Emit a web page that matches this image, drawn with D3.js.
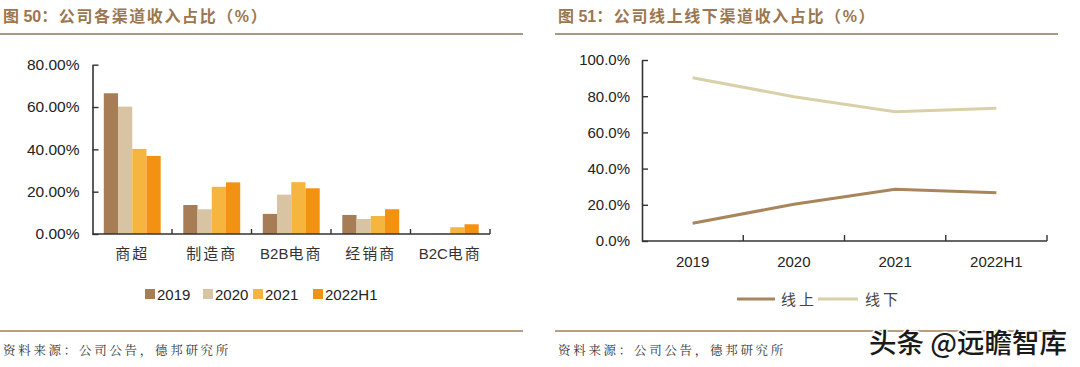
<!DOCTYPE html>
<html><head><meta charset="utf-8">
<script src="https://cdn.jsdelivr.net/npm/d3@7"></script>
<style>
body{margin:0;background:#fff;}
svg{display:block;}
</style></head>
<body><svg id="c" width="1080" height="367"></svg>
<script>
// ---- data ----
const barCategories = ["商超", "制造商", "B2B电商", "经销商", "B2C电商"];
const barSeries = ["2019", "2020", "2021", "2022H1"];
const bar2019 = [66.5, 13.7, 9.5, 9.0, 0.0];
const bar2020 = [60.2, 11.7, 18.6, 7.1, 0.2];
const bar2021 = [40.2, 22.3, 24.5, 8.5, 3.2];
const bar2022H1 = [36.9, 24.4, 21.6, 11.7, 4.6];
const barTicks = [0, 20, 40, 60, 80];

const lineCategories = ["2019", "2020", "2021", "2022H1"];
const lineSeries = ["线上", "线下"];
const online = [9.8, 20.3, 28.6, 26.6];
const offline = [90.2, 79.7, 71.4, 73.4];
const lineTicks = [0, 20, 40, 60, 80, 100];

const titleLeft = ["图 ", "50", "：公司各渠道收入占比（%）"];
const titleRight = ["图 ", "51", "：公司线上线下渠道收入占比（%）"];
const sourceText = "资料来源：公司公告，德邦研究所";
const watermark = "头条 @远瞻智库";

// ---- styles ----
const barColors = ["#a67d55", "#d8c4a2", "#f6b53f", "#f39212"];
const lineColors = ["#a8855c", "#d9d0aa"];
const titleColor = "#9b7750";
const ruleColor = "#a89a86";
const axisColor = "#333";
const latin = "Arial, 'Liberation Sans', sans-serif";
const cjk = "'Noto Sans CJK SC', sans-serif";
const mixed = "Arial, 'Liberation Sans', 'Noto Sans CJK SC', sans-serif";

const svg = d3.select("#c");

// titles & rules
function header(x, x2, parts) {
  const t = svg.append("text").attr("x", x + 3).attr("y", 22).attr("font-family", mixed)
    .attr("font-size", 16).attr("font-weight", "bold").attr("fill", titleColor);
  t.append("tspan").attr("letter-spacing", 0).text(parts[0]);
  t.append("tspan").attr("letter-spacing", 0).text(parts[1]);
  t.append("tspan").attr("letter-spacing", 1.6).text(parts[2]);
  svg.append("line").attr("x1", x).attr("x2", x2).attr("y1", 34).attr("y2", 34)
    .attr("stroke", ruleColor).attr("stroke-width", 2);
  svg.append("line").attr("x1", x).attr("x2", x2).attr("y1", 331).attr("y2", 331)
    .attr("stroke", "#b89f82").attr("stroke-width", 2);
  svg.append("text").attr("x", x + 3).attr("y", 355).attr("font-family", "'Noto Serif CJK SC', " + cjk)
    .attr("font-size", 12.5).attr("letter-spacing", 2.7).attr("fill", "#333").text(sourceText);
}
header(0, 523, titleLeft);
header(555, 1058, titleRight);

// category label with Latin part tight, CJK part spaced
function catLabel(sel, str) {
  const parts = str.match(/[A-Za-z0-9]+|[^A-Za-z0-9]+/g);
  parts.forEach(p => {
    const isLatin = /^[A-Za-z0-9]+$/.test(p);
    sel.append("tspan").attr("font-family", isLatin ? latin : cjk)
      .attr("letter-spacing", isLatin ? 0 : 2).text(p);
  });
}

// ---- left bar chart ----
{
  const x0 = d3.scaleBand().domain(barCategories).range([92.5, 490]).padding(0);
  const x1 = d3.scaleBand().domain(barSeries).range([11.3, x0.bandwidth() - 11.3]).padding(0);
  const y = d3.scaleLinear().domain([0, 80]).range([234, 64.7]);
  const seriesVals = [bar2019, bar2020, bar2021, bar2022H1];

  const gy = svg.append("g").attr("transform", "translate(92.5,0)")
    .call(d3.axisLeft(y).tickValues(barTicks).tickSizeInner(-6).tickSizeOuter(0).tickPadding(13)
      .tickFormat(d => d3.format(".2f")(d) + "%"));
  gy.select(".domain").attr("stroke", axisColor).attr("stroke-width", 1.6);
  gy.selectAll(".tick line").attr("stroke", axisColor).attr("stroke-width", 1.4);
  gy.selectAll("text").attr("font-family", latin).attr("font-size", 15.5).attr("fill", "#222");

  barCategories.forEach((c, i) => {
    seriesVals.forEach((vals, j) => {
      const v = vals[i];
      svg.append("rect").attr("x", x0(c) + x1(barSeries[j])).attr("y", y(v))
        .attr("width", x1.bandwidth()).attr("height", y(0) - y(v)).attr("fill", barColors[j]);
    });
  });

  svg.append("line").attr("x1", 92.5).attr("x2", 490).attr("y1", y(0)).attr("y2", y(0))
    .attr("stroke", axisColor).attr("stroke-width", 1.6);
  barCategories.forEach(c => {
    const xb = x0(c) + x0.bandwidth();
    svg.append("line").attr("x1", xb).attr("x2", xb).attr("y1", y(0)).attr("y2", y(0) - 5)
      .attr("stroke", axisColor).attr("stroke-width", 1.4);
    const t = svg.append("text").attr("x", x0(c) + x0.bandwidth() / 2).attr("y", 259)
      .attr("text-anchor", "middle").attr("font-size", 15).attr("fill", "#333");
    catLabel(t, c);
  });

  // legend
  const lx = [145, 203, 253, 313];
  barSeries.forEach((s, j) => {
    svg.append("rect").attr("x", lx[j]).attr("y", 289).attr("width", 10).attr("height", 10).attr("fill", barColors[j]);
    svg.append("text").attr("x", lx[j] + 12).attr("y", 299.5).attr("font-family", latin)
      .attr("font-size", 15).attr("fill", "#222").text(s);
  });
}

// ---- right line chart ----
{
  const x = d3.scaleBand().domain(lineCategories).range([642, 1047]).padding(0);
  const y = d3.scaleLinear().domain([0, 100]).range([241, 60]);

  const gy = svg.append("g").attr("transform", "translate(642,0)")
    .call(d3.axisLeft(y).tickValues(lineTicks).tickSizeInner(-6).tickSizeOuter(0).tickPadding(12)
      .tickFormat(d => d3.format(".1f")(d) + "%"));
  gy.select(".domain").attr("stroke", axisColor).attr("stroke-width", 1.6);
  gy.selectAll(".tick line").attr("stroke", axisColor).attr("stroke-width", 1.4);
  gy.selectAll("text").attr("font-family", latin).attr("font-size", 15).attr("fill", "#222");

  svg.append("line").attr("x1", 642).attr("x2", 1047).attr("y1", y(0)).attr("y2", y(0))
    .attr("stroke", axisColor).attr("stroke-width", 1.6);
  lineCategories.forEach(c => {
    const xb = x(c) + x.bandwidth();
    svg.append("line").attr("x1", xb).attr("x2", xb).attr("y1", y(0)).attr("y2", y(0) - 6)
      .attr("stroke", axisColor).attr("stroke-width", 1.4);
    svg.append("text").attr("x", x(c) + x.bandwidth() / 2).attr("y", 267)
      .attr("text-anchor", "middle").attr("font-family", latin).attr("font-size", 15)
      .attr("fill", "#222").text(c);
  });

  const line = d3.line().x((d, i) => x(lineCategories[i]) + x.bandwidth() / 2).y(d => y(d));
  [online, offline].forEach((vals, k) => {
    svg.append("path").attr("d", line(vals)).attr("fill", "none")
      .attr("stroke", lineColors[k]).attr("stroke-width", 3);
  });

  // legend
  const lg = [[737, 775, 781], [818, 858, 865]];
  lineSeries.forEach((s, k) => {
    svg.append("line").attr("x1", lg[k][0]).attr("x2", lg[k][1]).attr("y1", 299).attr("y2", 299)
      .attr("stroke", lineColors[k]).attr("stroke-width", 3);
    svg.append("text").attr("x", lg[k][2]).attr("y", 305).attr("font-family", cjk)
      .attr("font-size", 15).attr("letter-spacing", 3).attr("fill", "#444").text(s);
  });
}

// watermark
svg.append("text").attr("x", 869).attr("y", 353).attr("font-family", cjk)
  .attr("font-size", 27.5).attr("font-weight", 500).attr("fill", "#1a1a1a").attr("stroke", "#fff").attr("stroke-width", 3)
  .attr("paint-order", "stroke").text(watermark);
</script>
</body></html>
